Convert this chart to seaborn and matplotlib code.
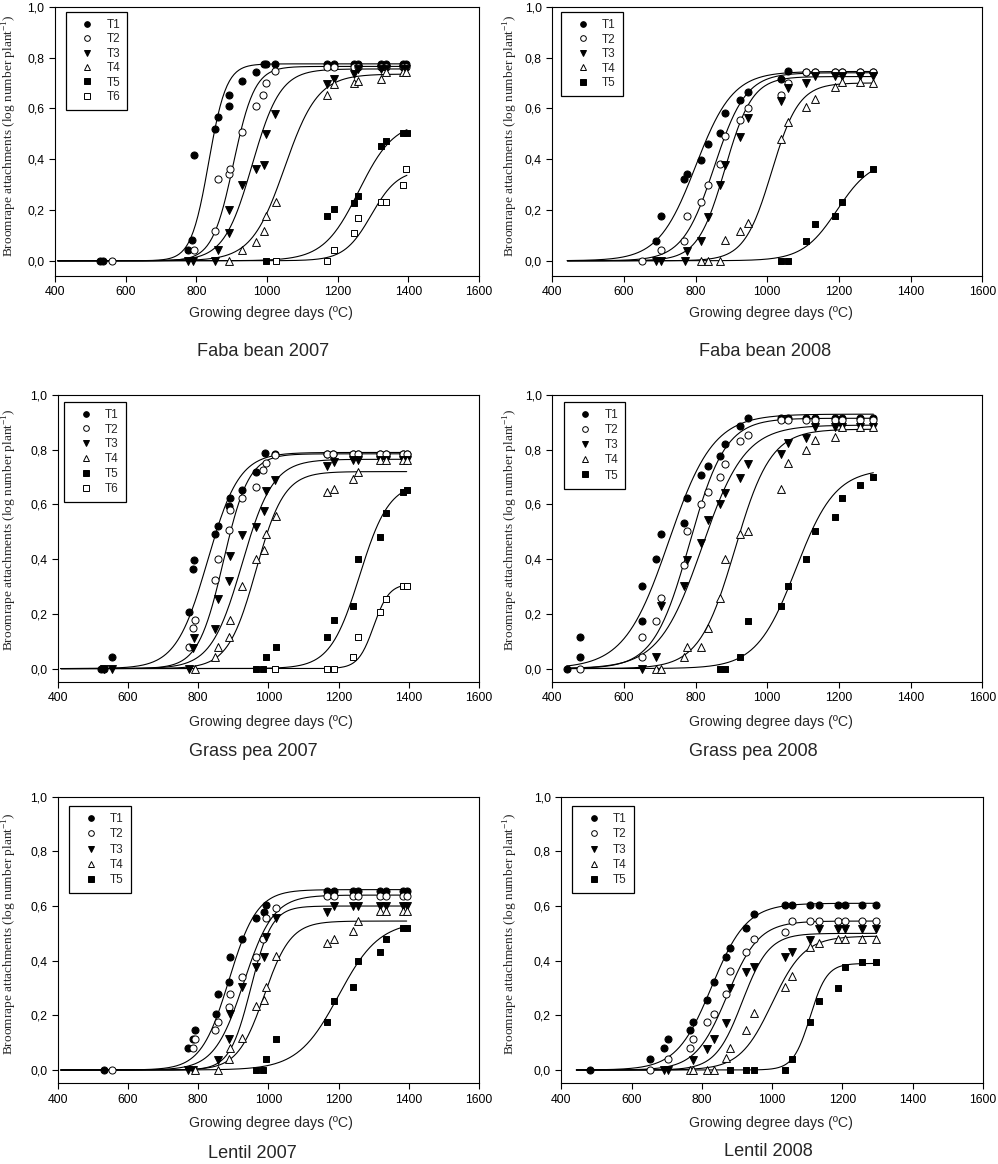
import numpy as np
import matplotlib
matplotlib.use("Agg")
import matplotlib.pyplot as plt
from matplotlib.lines import Line2D
from matplotlib.ticker import FuncFormatter
import seaborn as sns

# %% datos ---------------------------------------------------------------
TREATMENTS = ["T1", "T2", "T3", "T4", "T5", "T6"]
XTICKS = [400, 600, 800, 1000, 1200, 1400, 1600]
YTICKS = [0.0, 0.2, 0.4, 0.6, 0.8, 1.0]
X_LABEL = "Growing degree days (ºC)"
Y_LABEL = r"Broomrape attachments (log number plant$^{\mathregular{-1}}$)"
TITLES = ["Faba bean 2007", "Faba bean 2008", "Grass pea 2007",
          "Grass pea 2008", "Lentil 2007", "Lentil 2008"]

# Faba bean 2007
FB07_T1_X = [527, 535, 777, 787, 793, 853, 862, 893, 893, 928, 968, 992, 998, 1023, 1171, 1190, 1245, 1258, 1322, 1336, 1385, 1394]
FB07_T1_Y = [0, 0, 0.042, 0.081, 0.415, 0.52, 0.567, 0.653, 0.611, 0.706, 0.742, 0.775, 0.775, 0.775, 0.775, 0.775, 0.775, 0.775, 0.775, 0.775, 0.775, 0.775]
FB07_T2_X = [560, 794, 853, 862, 893, 895, 928, 968, 990, 996, 1023, 1171, 1190, 1245, 1258, 1322, 1336, 1385, 1394]
FB07_T2_Y = [0, 0.042, 0.116, 0.32, 0.343, 0.362, 0.505, 0.611, 0.653, 0.699, 0.746, 0.764, 0.764, 0.764, 0.764, 0.764, 0.764, 0.764, 0.764]
FB07_T3_X = [777, 791, 853, 862, 893, 893, 928, 968, 992, 996, 1023, 1171, 1190, 1245, 1258, 1322, 1336, 1385, 1394]
FB07_T3_Y = [0, 0, 0, 0.042, 0.111, 0.2, 0.30, 0.36, 0.376, 0.5, 0.576, 0.696, 0.716, 0.735, 0.755, 0.755, 0.755, 0.755, 0.755]
FB07_T4_X = [893, 928, 968, 992, 996, 1025, 1171, 1190, 1245, 1258, 1322, 1336, 1385, 1394]
FB07_T4_Y = [0, 0.042, 0.075, 0.118, 0.175, 0.232, 0.653, 0.696, 0.70, 0.707, 0.716, 0.742, 0.742, 0.742]
FB07_T5_X = [996, 1171, 1190, 1245, 1258, 1322, 1336, 1385, 1395]
FB07_T5_Y = [0, 0.175, 0.203, 0.229, 0.255, 0.452, 0.47, 0.504, 0.504]
FB07_T6_X = [1025, 1171, 1190, 1245, 1258, 1322, 1336, 1385, 1394]
FB07_T6_Y = [0, 0, 0.042, 0.11, 0.17, 0.23, 0.23, 0.30, 0.36]
# curvas ajustadas (asíntota, punto medio, pendiente)
FB07_TOP = [0.775, 0.765, 0.755, 0.735, 0.55, 0.36]
FB07_MID = [835, 905, 958, 1050, 1260, 1295]
FB07_RATE = [25, 30, 40, 47, 50, 38]
FB07_RANGE = [408, 1396]

# Faba bean 2008
FB08_T1_X = [690, 702, 767, 776, 816, 834, 867, 881, 925, 946, 1037, 1058, 1107, 1134, 1190, 1208, 1258, 1296]
FB08_T1_Y = [0.079, 0.175, 0.32, 0.34, 0.398, 0.46, 0.503, 0.58, 0.633, 0.664, 0.716, 0.746, 0.742, 0.742, 0.742, 0.742, 0.742, 0.742]
FB08_T2_X = [651, 702, 767, 776, 816, 834, 869, 881, 925, 946, 1037, 1058, 1107, 1134, 1190, 1208, 1258, 1296]
FB08_T2_Y = [0, 0.042, 0.079, 0.175, 0.23, 0.30, 0.38, 0.49, 0.556, 0.602, 0.653, 0.699, 0.742, 0.742, 0.742, 0.742, 0.742, 0.742]
FB08_T3_X = [690, 702, 769, 776, 816, 834, 869, 881, 925, 946, 1037, 1058, 1107, 1134, 1190, 1208, 1258, 1296]
FB08_T3_Y = [0, 0, 0, 0.039, 0.079, 0.173, 0.30, 0.378, 0.487, 0.563, 0.63, 0.68, 0.70, 0.729, 0.729, 0.729, 0.729, 0.729]
FB08_T4_X = [816, 834, 869, 881, 925, 946, 1037, 1058, 1107, 1134, 1190, 1208, 1258, 1296]
FB08_T4_Y = [0, 0, 0, 0.081, 0.116, 0.149, 0.48, 0.546, 0.605, 0.637, 0.683, 0.703, 0.703, 0.70]
FB08_T5_X = [1037, 1058, 1107, 1134, 1190, 1208, 1258, 1296]
FB08_T5_Y = [0, 0, 0.079, 0.144, 0.175, 0.23, 0.343, 0.36]
FB08_TOP = [0.745, 0.74, 0.725, 0.70, 0.40]
FB08_MID = [800, 852, 882, 1012, 1195]
FB08_RATE = [52, 44, 38, 38, 48]
FB08_RANGE = [442, 1296]

# Grass pea 2007
GP07_T1_X = [523, 533, 556, 774, 784, 789, 848, 858, 889, 891, 924, 965, 990, 1019, 1168, 1185, 1242, 1254, 1318, 1334, 1384, 1394]
GP07_T1_Y = [0, 0, 0.044, 0.205, 0.364, 0.398, 0.492, 0.52, 0.596, 0.622, 0.653, 0.717, 0.787, 0.783, 0.783, 0.783, 0.783, 0.783, 0.783, 0.783, 0.783, 0.783]
GP07_T2_X = [775, 784, 791, 848, 858, 889, 891, 924, 965, 986, 992, 1019, 1168, 1185, 1242, 1254, 1318, 1334, 1384, 1394]
GP07_T2_Y = [0.078, 0.147, 0.178, 0.324, 0.40, 0.507, 0.58, 0.625, 0.665, 0.726, 0.75, 0.78, 0.783, 0.783, 0.783, 0.783, 0.783, 0.783, 0.783, 0.783]
GP07_T3_X = [533, 556, 774, 784, 789, 848, 858, 889, 891, 924, 965, 989, 992, 1019, 1168, 1187, 1242, 1254, 1318, 1334, 1384, 1394]
GP07_T3_Y = [0, 0, 0, 0.077, 0.111, 0.144, 0.253, 0.32, 0.413, 0.488, 0.519, 0.576, 0.649, 0.689, 0.74, 0.756, 0.762, 0.762, 0.762, 0.762, 0.762, 0.762]
GP07_T4_X = [791, 848, 858, 889, 891, 924, 965, 989, 992, 1021, 1168, 1187, 1242, 1254, 1318, 1334, 1384, 1394]
GP07_T4_Y = [0, 0.044, 0.08, 0.117, 0.178, 0.302, 0.40, 0.434, 0.492, 0.559, 0.647, 0.655, 0.693, 0.72, 0.762, 0.762, 0.762, 0.762]
GP07_T5_X = [964, 986, 992, 1021, 1168, 1187, 1242, 1254, 1318, 1334, 1384, 1394]
GP07_T5_Y = [0, 0, 0.044, 0.08, 0.114, 0.178, 0.23, 0.40, 0.48, 0.568, 0.644, 0.653]
GP07_T6_X = [1019, 1168, 1187, 1242, 1254, 1318, 1334, 1384, 1394]
GP07_T6_Y = [0, 0, 0, 0.044, 0.114, 0.205, 0.256, 0.302, 0.302]
GP07_TOP = [0.79, 0.785, 0.765, 0.72, 0.68, 0.31]
GP07_MID = [827, 872, 925, 965, 1260, 1300]
GP07_RATE = [45, 36, 44, 40, 42, 22]
GP07_RANGE = [409, 1394]

# Grass pea 2008
GP08_T1_X = [442, 478, 478, 651, 651, 690, 702, 767, 776, 816, 834, 869, 881, 925, 946, 1037, 1058, 1107, 1134, 1190, 1208, 1258, 1296]
GP08_T1_Y = [0, 0.041, 0.114, 0.302, 0.175, 0.40, 0.492, 0.533, 0.625, 0.708, 0.742, 0.778, 0.821, 0.888, 0.915, 0.915, 0.915, 0.915, 0.915, 0.915, 0.915, 0.915, 0.915]
GP08_T2_X = [478, 651, 651, 690, 702, 767, 776, 816, 834, 869, 881, 925, 946, 1037, 1058, 1107, 1134, 1190, 1208, 1258, 1296]
GP08_T2_Y = [0, 0.114, 0.041, 0.175, 0.257, 0.38, 0.504, 0.603, 0.644, 0.70, 0.748, 0.833, 0.854, 0.909, 0.909, 0.909, 0.909, 0.909, 0.909, 0.909, 0.909]
GP08_T3_X = [651, 690, 702, 767, 776, 816, 834, 869, 881, 925, 946, 1037, 1058, 1107, 1134, 1190, 1208, 1258, 1296]
GP08_T3_Y = [0, 0.041, 0.229, 0.302, 0.397, 0.458, 0.543, 0.602, 0.64, 0.698, 0.747, 0.784, 0.823, 0.844, 0.884, 0.884, 0.884, 0.884, 0.884]
GP08_T4_X = [690, 702, 767, 776, 816, 834, 869, 881, 925, 946, 1037, 1058, 1107, 1134, 1190, 1208, 1258, 1296]
GP08_T4_Y = [0, 0, 0.041, 0.08, 0.08, 0.147, 0.257, 0.40, 0.492, 0.504, 0.656, 0.75, 0.80, 0.835, 0.848, 0.884, 0.884, 0.884]
GP08_T5_X = [869, 881, 925, 946, 1037, 1058, 1107, 1134, 1190, 1208, 1258, 1296]
GP08_T5_Y = [0, 0, 0.041, 0.175, 0.23, 0.302, 0.40, 0.504, 0.555, 0.622, 0.671, 0.70]
GP08_TOP = [0.93, 0.915, 0.89, 0.875, 0.73]
GP08_MID = [725, 783, 818, 910, 1080]
GP08_RATE = [62, 50, 60, 50, 55]
GP08_RANGE = [440, 1296]

# Lentil 2007
L07_T1_X = [533, 770, 784, 791, 850, 858, 889, 891, 924, 965, 989, 992, 1168, 1187, 1242, 1254, 1318, 1334, 1384, 1394]
L07_T1_Y = [0, 0.079, 0.112, 0.146, 0.204, 0.278, 0.321, 0.415, 0.478, 0.557, 0.579, 0.604, 0.655, 0.655, 0.655, 0.655, 0.655, 0.655, 0.655, 0.655]
L07_T2_X = [556, 784, 791, 848, 858, 889, 891, 924, 965, 986, 992, 1021, 1168, 1187, 1242, 1254, 1318, 1334, 1384, 1394]
L07_T2_Y = [0, 0.079, 0.112, 0.146, 0.177, 0.229, 0.278, 0.341, 0.415, 0.478, 0.557, 0.594, 0.637, 0.637, 0.637, 0.637, 0.637, 0.637, 0.637, 0.637]
L07_T3_X = [770, 784, 858, 889, 891, 924, 965, 989, 992, 1021, 1168, 1187, 1242, 1254, 1318, 1334, 1384, 1394]
L07_T3_Y = [0, 0, 0.037, 0.112, 0.204, 0.302, 0.376, 0.415, 0.488, 0.557, 0.579, 0.60, 0.60, 0.60, 0.60, 0.60, 0.60, 0.60]
L07_T4_X = [791, 858, 889, 891, 924, 965, 989, 992, 1021, 1168, 1187, 1242, 1254, 1318, 1334, 1384, 1394]
L07_T4_Y = [0, 0, 0.04, 0.079, 0.116, 0.234, 0.256, 0.302, 0.417, 0.463, 0.479, 0.509, 0.545, 0.582, 0.582, 0.582, 0.582]
L07_T5_X = [965, 986, 992, 1021, 1168, 1187, 1242, 1254, 1318, 1334, 1384, 1394]
L07_T5_Y = [0, 0, 0.04, 0.112, 0.177, 0.254, 0.302, 0.399, 0.43, 0.478, 0.518, 0.518]
L07_TOP = [0.66, 0.64, 0.60, 0.545, 0.545]
L07_MID = [888, 930, 950, 988, 1200]
L07_RATE = [40, 42, 30, 38, 58]
L07_RANGE = [409, 1394]

# Lentil 2008
L08_T1_X = [481, 653, 691, 704, 767, 775, 815, 834, 868, 881, 925, 947, 1037, 1056, 1107, 1132, 1187, 1206, 1257, 1295]
L08_T1_Y = [0, 0.04, 0.079, 0.113, 0.146, 0.174, 0.256, 0.323, 0.415, 0.448, 0.52, 0.57, 0.604, 0.604, 0.604, 0.604, 0.604, 0.604, 0.604, 0.604]
L08_T2_X = [653, 704, 767, 775, 815, 834, 868, 881, 925, 947, 1037, 1056, 1107, 1132, 1187, 1206, 1257, 1295]
L08_T2_Y = [0, 0.04, 0.079, 0.113, 0.177, 0.205, 0.278, 0.362, 0.433, 0.478, 0.506, 0.545, 0.545, 0.545, 0.545, 0.545, 0.545, 0.545]
L08_T3_X = [691, 704, 775, 815, 834, 868, 881, 925, 947, 1037, 1056, 1107, 1132, 1187, 1206, 1257, 1295]
L08_T3_Y = [0, 0, 0.037, 0.077, 0.112, 0.173, 0.30, 0.36, 0.376, 0.415, 0.43, 0.476, 0.516, 0.516, 0.516, 0.516, 0.516]
L08_T4_X = [767, 775, 815, 834, 868, 881, 925, 947, 1037, 1056, 1107, 1132, 1187, 1206, 1257, 1295]
L08_T4_Y = [0, 0, 0, 0, 0.043, 0.079, 0.146, 0.207, 0.302, 0.344, 0.449, 0.463, 0.479, 0.479, 0.479, 0.479]
L08_T5_X = [881, 925, 947, 1037, 1056, 1107, 1132, 1187, 1206, 1257, 1295]
L08_T5_Y = [0, 0, 0, 0, 0.04, 0.174, 0.254, 0.301, 0.378, 0.396, 0.396]
L08_TOP = [0.61, 0.545, 0.50, 0.49, 0.39]
L08_MID = [828, 872, 915, 1000, 1108]
L08_RATE = [50, 45, 38, 46, 24]
L08_RANGE = [443, 1295]

# %% estilo ---------------------------------------------------------------
sns.set_style("ticks")
plt.rcParams.update({
    "font.family": ["Liberation Sans", "DejaVu Sans"],
    "mathtext.fontset": "custom",
    "mathtext.rm": "Liberation Serif",
    "axes.linewidth": 0.8,
    "axes.edgecolor": "black",
    "xtick.color": "black",
    "ytick.color": "black",
    "xtick.direction": "out",
    "ytick.direction": "out",
    "xtick.major.size": 4,
    "ytick.major.size": 4,
    "xtick.major.width": 0.8,
    "ytick.major.width": 0.8,
    "xtick.labelsize": 8.8,
    "ytick.labelsize": 8.8,
})

# estilos de marcador por tratamiento
MARKERS = {
    "T1": ("o", "black", 26),
    "T2": ("o", "white", 26),
    "T3": ("v", "black", 32),
    "T4": ("^", "white", 32),
    "T5": ("s", "black", 21),
    "T6": ("s", "white", 21),
}

panels = [
    ([(FB07_T1_X, FB07_T1_Y), (FB07_T2_X, FB07_T2_Y), (FB07_T3_X, FB07_T3_Y),
      (FB07_T4_X, FB07_T4_Y), (FB07_T5_X, FB07_T5_Y), (FB07_T6_X, FB07_T6_Y)],
     FB07_TOP, FB07_MID, FB07_RATE, FB07_RANGE),
    ([(FB08_T1_X, FB08_T1_Y), (FB08_T2_X, FB08_T2_Y), (FB08_T3_X, FB08_T3_Y),
      (FB08_T4_X, FB08_T4_Y), (FB08_T5_X, FB08_T5_Y)],
     FB08_TOP, FB08_MID, FB08_RATE, FB08_RANGE),
    ([(GP07_T1_X, GP07_T1_Y), (GP07_T2_X, GP07_T2_Y), (GP07_T3_X, GP07_T3_Y),
      (GP07_T4_X, GP07_T4_Y), (GP07_T5_X, GP07_T5_Y), (GP07_T6_X, GP07_T6_Y)],
     GP07_TOP, GP07_MID, GP07_RATE, GP07_RANGE),
    ([(GP08_T1_X, GP08_T1_Y), (GP08_T2_X, GP08_T2_Y), (GP08_T3_X, GP08_T3_Y),
      (GP08_T4_X, GP08_T4_Y), (GP08_T5_X, GP08_T5_Y)],
     GP08_TOP, GP08_MID, GP08_RATE, GP08_RANGE),
    ([(L07_T1_X, L07_T1_Y), (L07_T2_X, L07_T2_Y), (L07_T3_X, L07_T3_Y),
      (L07_T4_X, L07_T4_Y), (L07_T5_X, L07_T5_Y)],
     L07_TOP, L07_MID, L07_RATE, L07_RANGE),
    ([(L08_T1_X, L08_T1_Y), (L08_T2_X, L08_T2_Y), (L08_T3_X, L08_T3_Y),
      (L08_T4_X, L08_T4_Y), (L08_T5_X, L08_T5_Y)],
     L08_TOP, L08_MID, L08_RATE, L08_RANGE),
]

# posición de cada panel en píxeles: izquierda, arriba, ancho, alto, y mínimo
W, H = 998, 1164
LAYOUT = [
    (55.0, 6.7, 424.0, 269.3, -0.060),
    (552.3, 6.7, 430.0, 269.3, -0.060),
    (57.7, 395.0, 421.3, 286.7, -0.048),
    (552.3, 395.0, 430.0, 286.7, -0.048),
    (57.7, 796.7, 421.3, 286.7, -0.049),
    (561.3, 796.7, 421.7, 286.7, -0.049),
]
LEGEND_POS = [(10.7, 5.3), (9.0, 5.3), (6.6, 6.7), (11.4, 6.7), (11.3, 9.3), (10.7, 9.3)]
LEGEND_SPACING = [0.20, 0.21, 0.24, 0.27, 0.28, 0.28]
XLABEL_POS = [(271.3, 313.3), (770.8, 313.3), (271.3, 721.7), (770.8, 721.7),
              (271.3, 1123.3), (770.8, 1123.3)]
TITLE_POS = [(263.3, 351.7), (764.7, 351.7), (253.7, 751.7), (753.0, 751.7),
             (252.5, 1153.5), (768.0, 1152.0)]
YLABEL_POS = [(10.0, 136.0), (511.0, 136.0), (10.0, 530.0), (510.7, 530.0),
              (10.0, 933.3), (511.3, 933.3)]

comma = FuncFormatter(lambda v, _: f"{v:.1f}".replace(".", ","))

fig = plt.figure(figsize=(W / 100, H / 100), dpi=100)

for i, (series, tops, mids, rates, xr) in enumerate(panels):
    left, top, width, height, ymin = LAYOUT[i]
    ax = fig.add_axes([left / W, 1 - (top + height) / H, width / W, height / H])

    # curvas logísticas ajustadas
    xs = np.linspace(xr[0], xr[1], 300)
    for a, m, r in zip(tops, mids, rates):
        ys = a / (1 + np.exp(-(xs - m) / r))
        sns.lineplot(x=xs, y=ys, color="black", linewidth=0.8, ax=ax,
                     estimator=None, sort=False, zorder=2)

    # puntos observados
    handles = []
    for k, (xv, yv) in enumerate(series):
        name = TREATMENTS[k]
        mk, fc, size = MARKERS[name]
        sns.scatterplot(x=xv, y=yv, marker=mk, s=size, color=fc,
                        edgecolor="black", linewidth=0.7, ax=ax, zorder=3)
        handles.append(Line2D([], [], marker=mk, linestyle="none",
                              markerfacecolor=fc, markeredgecolor="black",
                              markeredgewidth=0.7,
                              markersize=np.sqrt(size) * 0.8, label=name))

    ax.set_xlim(400, 1600)
    ax.set_ylim(ymin, 1.0)
    ax.set_xticks(XTICKS)
    ax.set_yticks(YTICKS)
    ax.yaxis.set_major_formatter(comma)
    ax.set_xlabel("")
    ax.set_ylabel("")
    for sp in ax.spines.values():
        sp.set_visible(True)
        sp.set_linewidth(0.8)

    lx, ly = LEGEND_POS[i]
    leg = ax.legend(handles=handles, loc="upper left",
                    bbox_to_anchor=(lx / width, 1 - ly / height),
                    borderaxespad=0, frameon=True, fancybox=False,
                    edgecolor="black", framealpha=1, fontsize=8.5,
                    borderpad=0.6, labelspacing=LEGEND_SPACING[i],
                    handlelength=2.45, handletextpad=0.4)
    leg.get_frame().set_linewidth(0.9)

    fx, fy = XLABEL_POS[i]
    fig.text(fx / W, 1 - fy / H, X_LABEL, ha="center", va="center",
             fontsize=10.2)
    tx, ty = TITLE_POS[i]
    fig.text(tx / W, 1 - ty / H, TITLES[i], ha="center", va="center",
             fontsize=13.1)
    yx, yy = YLABEL_POS[i]
    fig.text(yx / W, 1 - yy / H, Y_LABEL, ha="center", va="center",
             rotation=90, fontsize=9.6, family="Liberation Serif")

fig.savefig("out.png", dpi=100)
